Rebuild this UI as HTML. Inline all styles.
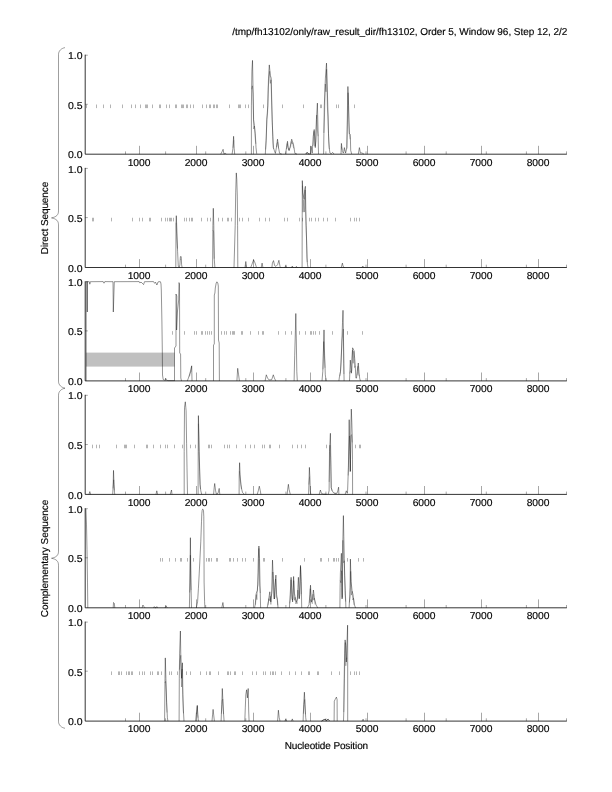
<!DOCTYPE html>
<html><head><meta charset="utf-8"><title>plot</title>
<style>html,body{margin:0;padding:0;background:#fff}svg{display:block}text{font-family:"Liberation Sans",sans-serif;font-size:10px;fill:#000;text-rendering:geometricPrecision;stroke:#000;stroke-width:0.15px}</style></head>
<body>
<svg width="612" height="792" viewBox="0 0 612 792">
<rect width="612" height="792" fill="#fff"/>
<text transform="translate(567.30 35.20) scale(1.0 1.0)" text-anchor="end" textLength="335.00" lengthAdjust="spacing">/tmp/fh13102/only/raw_result_dir/fh13102, Order 5, Window 96, Step 12, 2/2</text>
<path d="M65.0 47.6 C61.5 48.300000000000004 58.5 50.6 58.5 54.6 L58.5 210.9 C58.5 214.9 56.5 216.9 51.5 217.9 C56.5 218.9 58.5 220.9 58.5 224.9 L58.5 381.2 C58.5 385.2 61.5 387.5 65.0 388.2" fill="none" stroke="#000" stroke-width="0.38"/>
<path d="M65.0 388.2 C61.5 388.9 58.5 391.2 58.5 395.2 L58.5 551.25 C58.5 555.25 56.5 557.25 51.5 558.25 C56.5 559.25 58.5 561.25 58.5 565.25 L58.5 721.3 C58.5 725.3 61.5 727.5999999999999 65.0 728.3" fill="none" stroke="#000" stroke-width="0.38"/>
<text transform="translate(48.30 218.00) rotate(-90) scale(1.0 1.0)" text-anchor="middle" textLength="72.50" lengthAdjust="spacing">Direct Sequence</text>
<text transform="translate(48.30 558.50) rotate(-90) scale(1.0 1.0)" text-anchor="middle" textLength="117.50" lengthAdjust="spacing">Complementary Sequence</text>
<text transform="translate(326.40 748.80) scale(1.0 1.0)" text-anchor="middle" textLength="83.50" lengthAdjust="spacing">Nucleotide Position</text>
<g>
<path d="M86.5 104.52v3.6M96.5 104.52v3.6M103.5 104.52v3.6M110.5 104.52v3.6M122.5 104.52v3.6M131.5 104.52v3.6M135.5 104.52v3.6M140.5 104.52v3.6M145.5 104.52v3.6M146.5 104.52v3.6M147.5 104.52v3.6M152.5 104.52v3.6M159.5 104.52v3.6M160.5 104.52v3.6M166.5 104.52v3.6M169.5 104.52v3.6M175.5 104.52v3.6M176.5 104.52v3.6M181.5 104.52v3.6M182.5 104.52v3.6M183.5 104.52v3.6M186.5 104.52v3.6M187.5 104.52v3.6M190.5 104.52v3.6M193.5 104.52v3.6M202.5 104.52v3.6M206.5 104.52v3.6M209.5 104.52v3.6M210.5 104.52v3.6M213.5 104.52v3.6M214.5 104.52v3.6M216.5 104.52v3.6M217.5 104.52v3.6M229.5 104.52v3.6M238.5 104.52v3.6M239.5 104.52v3.6M240.5 104.52v3.6M245.5 104.52v3.6M248.5 104.52v3.6M263.5 104.52v3.6M282.5 104.52v3.6M303.5 104.52v3.6M320.5 104.52v3.6M321.5 104.52v3.6M336.5 104.52v3.6M338.5 104.52v3.6M354.5 104.52v3.6" stroke="#000" stroke-width="0.3" fill="none"/>
<path d="M85.2 55.2V154.2H566.3" stroke="#000" stroke-width="0.8" fill="none" stroke-linecap="square"/>
<path d="M85.2 55.2h2.6M85.2 104.3h2.6" stroke="#000" stroke-width="0.35" fill="none"/>
<path d="M139.5 154.2v-8.4M196.5 154.2v-8.4M253.5 154.2v-8.4M310.5 154.2v-8.4M367.5 154.2v-8.4M424.5 154.2v-8.4M481.5 154.2v-8.4M538.5 154.2v-8.4M125.5 154.2v-2.8M165.6 154.2v-2.8M205.7 154.2v-2.8M245.8 154.2v-2.8M285.9 154.2v-2.8M325.9 154.2v-2.8M366.0 154.2v-2.8M406.1 154.2v-2.8M446.2 154.2v-2.8M486.3 154.2v-2.8M526.4 154.2v-2.8M566.5 154.2v-2.8" stroke="#000" stroke-width="0.35" fill="none"/>
<text transform="translate(82.50 58.95) scale(1.05 1.0)" text-anchor="end">1.0</text>
<text transform="translate(82.50 108.95) scale(1.05 1.0)" text-anchor="end">0.5</text>
<text transform="translate(82.50 157.95) scale(1.05 1.0)" text-anchor="end">0.0</text>
<text transform="translate(139.10 165.95) scale(1.03 1.0)" text-anchor="middle">1000</text>
<text transform="translate(196.10 165.95) scale(1.03 1.0)" text-anchor="middle">2000</text>
<text transform="translate(253.10 165.95) scale(1.03 1.0)" text-anchor="middle">3000</text>
<text transform="translate(310.10 165.95) scale(1.03 1.0)" text-anchor="middle">4000</text>
<text transform="translate(367.10 165.95) scale(1.03 1.0)" text-anchor="middle">5000</text>
<text transform="translate(424.10 165.95) scale(1.03 1.0)" text-anchor="middle">6000</text>
<text transform="translate(481.10 165.95) scale(1.03 1.0)" text-anchor="middle">7000</text>
<text transform="translate(538.10 165.95) scale(1.03 1.0)" text-anchor="middle">8000</text>
<path d="M220.7 154.2L222.0 151.8L223.1 149.3L223.9 153.8L225.6 153.4L226.4 154.2M232.1 154.2L232.9 148.5L233.6 136.3L234.2 148.5L234.7 154.2M251.4 154.2L251.4 105.9L251.9 71.2L252.5 60.4L253.1 92.0L253.6 119.8L254.4 125.4L255.3 133.7L256.0 147.6L256.7 153.8M265.3 154.2L266.1 140.6L266.8 119.8L267.8 105.9L268.5 78.1L269.3 64.9L270.3 75.4L271.2 78.1L271.7 99.0L272.2 119.8L272.8 136.5L273.3 147.6L274.3 150.4L275.4 153.4L276.4 147.6L277.5 139.2L278.5 147.6L279.6 153.4L281.7 154.0M285.6 154.0L286.5 147.6L287.5 141.3L288.2 147.6L288.9 150.4L290.0 147.6L291.7 139.2L293.5 144.8L294.9 153.4L296.9 154.0M306.0 154.0L307.4 152.4L308.8 153.8M305.6 154.0L306.9 152.4L308.3 154.0L310.4 153.8L311.1 146.2L312.2 153.1L313.2 136.5L314.2 129.5L315.3 147.6L316.4 119.8L317.4 103.1L318.1 133.7L318.5 154.0M323.6 154.0L323.9 133.7L324.3 105.9L325.4 78.1L326.5 63.1L327.4 92.0L328.5 133.7L329.2 147.6L329.9 152.9L331.2 153.8L332.6 152.4L334.0 154.0M341.0 154.0L341.4 143.4L342.4 151.8L343.5 153.1L344.4 147.6L345.6 153.1L346.9 147.6L347.5 105.9L347.9 86.5L348.6 105.9L349.3 133.7L350.3 134.4L350.7 150.4L351.7 154.0M358.3 154.0L359.4 147.6L360.4 153.1L361.8 152.9L363.9 154.0" stroke="#000" stroke-width="0.42" fill="none" stroke-linejoin="round"/>
<path d="M233.1 147.7L233.8 140.3M251.7 89.2L252.4 85.8L253.0 93.5L253.7 129.0L254.4 126.0L255.1 137.4L255.8 143.8M265.6 149.5L266.3 138.0L266.9 119.0L267.6 112.8L268.3 87.2L269.0 78.5L269.7 71.3L270.3 83.4L271.0 79.8L271.7 105.6L272.4 125.4L273.1 143.3L273.7 148.9M276.5 147.3L277.1 143.2L277.8 142.3L278.5 148.4M286.5 149.2L287.2 143.5L287.9 147.2L288.6 149.3L289.3 150.6L289.9 147.9L290.6 146.9L291.3 141.5L292.0 143.7L292.7 142.7L293.3 146.9L294.0 148.4M312.7 146.0L313.3 144.9L314.0 131.3L314.7 146.2L315.4 145.4L316.1 141.2L316.7 115.1L317.4 129.9L318.1 136.2M323.9 132.9L324.6 112.6L325.3 84.0L326.0 91.8L326.6 69.3L327.3 106.3L328.0 116.8L328.7 141.8L329.4 149.1M341.3 146.6L342.0 149.7M344.0 150.3L344.7 150.1M346.7 148.7L347.4 124.1L348.1 92.7L348.8 122.2L349.4 134.4L350.1 139.3" stroke="#000" stroke-width="0.25" fill="none" stroke-linejoin="round"/>
</g>
<g>
<path d="M92.5 217.78v3.6M93.5 217.78v3.6M111.5 217.78v3.6M132.5 217.78v3.6M139.5 217.78v3.6M142.5 217.78v3.6M149.5 217.78v3.6M150.5 217.78v3.6M161.5 217.78v3.6M165.5 217.78v3.6M167.5 217.78v3.6M169.5 217.78v3.6M170.5 217.78v3.6M171.5 217.78v3.6M173.5 217.78v3.6M184.5 217.78v3.6M186.5 217.78v3.6M189.5 217.78v3.6M191.5 217.78v3.6M192.5 217.78v3.6M201.5 217.78v3.6M207.5 217.78v3.6M210.5 217.78v3.6M218.5 217.78v3.6M222.5 217.78v3.6M227.5 217.78v3.6M228.5 217.78v3.6M231.5 217.78v3.6M239.5 217.78v3.6M242.5 217.78v3.6M248.5 217.78v3.6M259.5 217.78v3.6M265.5 217.78v3.6M269.5 217.78v3.6M284.5 217.78v3.6M287.5 217.78v3.6M299.5 217.78v3.6M302.5 217.78v3.6M309.5 217.78v3.6M311.5 217.78v3.6M315.5 217.78v3.6M318.5 217.78v3.6M323.5 217.78v3.6M327.5 217.78v3.6M335.5 217.78v3.6M350.5 217.78v3.6M354.5 217.78v3.6M356.5 217.78v3.6M359.5 217.78v3.6" stroke="#000" stroke-width="0.3" fill="none"/>
<path d="M85.2 168.4V267.5H566.3" stroke="#000" stroke-width="0.8" fill="none" stroke-linecap="square"/>
<path d="M85.2 168.4h2.6M85.2 217.6h2.6" stroke="#000" stroke-width="0.35" fill="none"/>
<path d="M139.5 267.5v-8.4M196.5 267.5v-8.4M253.5 267.5v-8.4M310.5 267.5v-8.4M367.5 267.5v-8.4M424.5 267.5v-8.4M481.5 267.5v-8.4M538.5 267.5v-8.4M125.5 267.5v-2.8M165.6 267.5v-2.8M205.7 267.5v-2.8M245.8 267.5v-2.8M285.9 267.5v-2.8M325.9 267.5v-2.8M366.0 267.5v-2.8M406.1 267.5v-2.8M446.2 267.5v-2.8M486.3 267.5v-2.8M526.4 267.5v-2.8M566.5 267.5v-2.8" stroke="#000" stroke-width="0.35" fill="none"/>
<text transform="translate(82.50 172.95) scale(1.05 1.0)" text-anchor="end">1.0</text>
<text transform="translate(82.50 221.95) scale(1.05 1.0)" text-anchor="end">0.5</text>
<text transform="translate(82.50 271.95) scale(1.05 1.0)" text-anchor="end">0.0</text>
<text transform="translate(139.10 278.95) scale(1.03 1.0)" text-anchor="middle">1000</text>
<text transform="translate(196.10 278.95) scale(1.03 1.0)" text-anchor="middle">2000</text>
<text transform="translate(253.10 278.95) scale(1.03 1.0)" text-anchor="middle">3000</text>
<text transform="translate(310.10 278.95) scale(1.03 1.0)" text-anchor="middle">4000</text>
<text transform="translate(367.10 278.95) scale(1.03 1.0)" text-anchor="middle">5000</text>
<text transform="translate(424.10 278.95) scale(1.03 1.0)" text-anchor="middle">6000</text>
<text transform="translate(481.10 278.95) scale(1.03 1.0)" text-anchor="middle">7000</text>
<text transform="translate(538.10 278.95) scale(1.03 1.0)" text-anchor="middle">8000</text>
<path d="M175.8 267.5L176.0 225.5L176.3 215.7L177.0 233.7L177.6 251.7L178.3 266.4L179.3 267.2L179.9 264.7L180.4 256.6L181.2 256.6L181.6 264.7L182.1 267.5M212.6 267.5L212.9 225.5L213.3 208.3L213.8 225.5L214.2 258.2L214.9 267.5M234.0 267.5L234.5 250.0L235.2 225.5L235.7 192.8L236.3 172.9L236.8 179.8L237.3 196.1L237.6 225.5L237.8 267.5M245.0 267.5L245.8 261.5L246.6 267.5M250.7 267.5L251.8 264.7L253.6 259.8L255.1 263.1L256.4 267.2M261.2 267.5L262.1 263.1L262.9 267.5M271.9 267.5L272.4 263.1L273.5 260.6L274.6 265.5L275.9 266.4L277.6 264.7L278.9 260.3L280.0 266.4L280.8 267.5M284.9 267.5L285.8 265.5L286.6 267.5M291.5 267.5L292.3 266.0L293.1 267.5M295.6 267.5L296.4 266.4L297.2 267.5M302.1 267.5L302.3 180.6L302.9 192.8L304.1 199.4L304.7 189.6L305.4 186.3L305.8 209.2L306.2 225.5L306.7 245.1L307.0 258.2L307.5 264.7L308.0 267.5M341.2 267.5L342.4 263.1L343.2 266.7L344.5 267.5M361.7 267.5L362.8 266.0L363.8 267.5" stroke="#000" stroke-width="0.42" fill="none" stroke-linejoin="round"/>
<path d="M176.1 222.8L176.8 238.8L177.5 248.5M180.2 260.0L180.9 259.3M212.9 230.1L213.6 231.7L214.3 258.8M302.4 185.7L303.1 212.2L303.8 199.7L304.4 212.1L305.1 189.9L305.8 221.7L306.5 238.2L307.2 262.1" stroke="#000" stroke-width="0.25" fill="none" stroke-linejoin="round"/>
</g>
<g>
<rect x="86" y="352.6" width="88.6" height="14.0" fill="#c0c0c0"/>
<path d="M172.5 331.13v3.6M184.5 331.13v3.6M194.5 331.13v3.6M196.5 331.13v3.6M201.5 331.13v3.6M202.5 331.13v3.6M205.5 331.13v3.6M207.5 331.13v3.6M209.5 331.13v3.6M211.5 331.13v3.6M221.5 331.13v3.6M224.5 331.13v3.6M226.5 331.13v3.6M230.5 331.13v3.6M232.5 331.13v3.6M233.5 331.13v3.6M234.5 331.13v3.6M241.5 331.13v3.6M242.5 331.13v3.6M250.5 331.13v3.6M258.5 331.13v3.6M262.5 331.13v3.6M263.5 331.13v3.6M278.5 331.13v3.6M285.5 331.13v3.6M291.5 331.13v3.6M299.5 331.13v3.6M305.5 331.13v3.6M310.5 331.13v3.6M311.5 331.13v3.6M313.5 331.13v3.6M315.5 331.13v3.6M319.5 331.13v3.6M332.5 331.13v3.6M347.5 331.13v3.6M362.5 331.13v3.6" stroke="#000" stroke-width="0.3" fill="none"/>
<path d="M85.2 281.8V380.9H566.3" stroke="#000" stroke-width="0.8" fill="none" stroke-linecap="square"/>
<path d="M85.2 281.8h2.6M85.2 330.9h2.6" stroke="#000" stroke-width="0.35" fill="none"/>
<path d="M139.5 380.9v-8.4M196.5 380.9v-8.4M253.5 380.9v-8.4M310.5 380.9v-8.4M367.5 380.9v-8.4M424.5 380.9v-8.4M481.5 380.9v-8.4M538.5 380.9v-8.4M125.5 380.9v-2.8M165.6 380.9v-2.8M205.7 380.9v-2.8M245.8 380.9v-2.8M285.9 380.9v-2.8M325.9 380.9v-2.8M366.0 380.9v-2.8M406.1 380.9v-2.8M446.2 380.9v-2.8M486.3 380.9v-2.8M526.4 380.9v-2.8M566.5 380.9v-2.8" stroke="#000" stroke-width="0.35" fill="none"/>
<text transform="translate(82.50 285.95) scale(1.05 1.0)" text-anchor="end">1.0</text>
<text transform="translate(82.50 334.95) scale(1.05 1.0)" text-anchor="end">0.5</text>
<text transform="translate(82.50 384.95) scale(1.05 1.0)" text-anchor="end">0.0</text>
<text transform="translate(139.10 391.95) scale(1.03 1.0)" text-anchor="middle">1000</text>
<text transform="translate(196.10 391.95) scale(1.03 1.0)" text-anchor="middle">2000</text>
<text transform="translate(253.10 391.95) scale(1.03 1.0)" text-anchor="middle">3000</text>
<text transform="translate(310.10 391.95) scale(1.03 1.0)" text-anchor="middle">4000</text>
<text transform="translate(367.10 391.95) scale(1.03 1.0)" text-anchor="middle">5000</text>
<text transform="translate(424.10 391.95) scale(1.03 1.0)" text-anchor="middle">6000</text>
<text transform="translate(481.10 391.95) scale(1.03 1.0)" text-anchor="middle">7000</text>
<text transform="translate(538.10 391.95) scale(1.03 1.0)" text-anchor="middle">8000</text>
<path d="M86.2 380.9L86.2 281.6L87.3 281.6L87.3 312.0L87.3 281.6L89.3 281.7L89.8 284.2L90.4 281.7L103.2 281.6L104.0 283.2L104.8 281.6L113.0 281.7L113.3 312.0L114.3 281.7L139.2 281.6L139.9 283.0L141.0 282.0L143.6 284.6L144.5 281.7L153.5 281.6L154.6 283.3L155.5 282.2L156.9 285.0L158.0 282.0L159.0 281.6L160.5 281.8L161.0 284.0L161.3 290.0L161.9 321.0L162.3 350.0L162.5 375.0L163.2 379.5L164.5 380.2L165.3 379.5L165.7 378.5L166.2 380.0L168.0 380.6L174.5 380.6M174.5 380.9L174.5 348.0L176.0 346.0L176.0 294.0L176.8 296.0L176.6 330.0L177.4 312.0L178.7 300.0L179.0 282.6L179.5 284.0L179.7 353.0L180.6 354.0L180.8 378.0L181.5 380.9M187.3 380.9L188.4 378.1L190.0 373.2L191.7 365.8L192.0 380.9M213.5 380.9L213.5 345.0L214.3 344.0L214.3 295.0L214.9 293.0L215.3 288.0L216.2 283.0L216.9 281.8L217.8 283.0L218.3 286.0L218.5 340.0L219.2 343.0L219.4 380.9M236.9 380.9L237.7 368.3L238.6 374.8L239.4 380.9M265.1 380.9L266.3 374.8L267.6 378.1L269.2 380.0L271.7 379.7L273.3 374.8L274.4 378.1L275.8 380.9M294.1 380.9L294.7 355.2L295.4 330.7L295.8 313.5L296.3 338.9L296.8 371.5L297.3 380.9M322.0 380.9L322.8 371.5L323.5 347.0L324.0 329.9L324.6 355.2L325.3 374.8L326.1 380.9M338.9 380.9L339.5 376.4L340.5 371.5L341.7 347.0L342.5 322.5L343.0 310.3L343.5 338.9L343.8 363.4L344.1 380.9M349.5 380.9L350.3 360.1L351.0 369.9L351.5 373.2L352.0 358.5L352.6 347.8L353.9 350.3L354.7 358.5L355.2 365.0L355.9 378.1L356.5 378.1L357.2 371.5L358.3 363.0L359.2 374.8L359.8 378.9L360.5 380.9" stroke="#000" stroke-width="0.42" fill="none" stroke-linejoin="round"/>
<path d="M188.9 376.7L189.6 376.1L190.3 372.3L191.0 372.0L191.6 366.4M323.0 369.3L323.7 341.6L324.3 353.6L325.0 367.8M339.9 376.3L340.5 371.3L341.2 362.5L341.9 341.0L342.6 335.1L343.3 329.1L343.9 374.1M349.8 373.5L350.5 370.8L351.2 371.5L351.8 370.4L352.5 350.2L353.2 363.3L353.9 351.2L354.6 367.6L355.2 365.9M357.3 375.3L358.0 366.2L358.6 373.6L359.3 376.1" stroke="#000" stroke-width="0.25" fill="none" stroke-linejoin="round"/>
</g>
<g>
<path d="M92.5 444.68v3.6M96.5 444.68v3.6M99.5 444.68v3.6M116.5 444.68v3.6M124.5 444.68v3.6M125.5 444.68v3.6M126.5 444.68v3.6M134.5 444.68v3.6M146.5 444.68v3.6M147.5 444.68v3.6M153.5 444.68v3.6M160.5 444.68v3.6M165.5 444.68v3.6M167.5 444.68v3.6M174.5 444.68v3.6M182.5 444.68v3.6M190.5 444.68v3.6M195.5 444.68v3.6M208.5 444.68v3.6M209.5 444.68v3.6M211.5 444.68v3.6M224.5 444.68v3.6M227.5 444.68v3.6M229.5 444.68v3.6M236.5 444.68v3.6M245.5 444.68v3.6M250.5 444.68v3.6M254.5 444.68v3.6M262.5 444.68v3.6M264.5 444.68v3.6M269.5 444.68v3.6M270.5 444.68v3.6M279.5 444.68v3.6M292.5 444.68v3.6M297.5 444.68v3.6M301.5 444.68v3.6M305.5 444.68v3.6M326.5 444.68v3.6M355.5 444.68v3.6M359.5 444.68v3.6M360.5 444.68v3.6" stroke="#000" stroke-width="0.3" fill="none"/>
<path d="M85.2 395.3V494.4H566.3" stroke="#000" stroke-width="0.8" fill="none" stroke-linecap="square"/>
<path d="M85.2 395.3h2.6M85.2 444.5h2.6" stroke="#000" stroke-width="0.35" fill="none"/>
<path d="M139.5 494.4v-8.4M196.5 494.4v-8.4M253.5 494.4v-8.4M310.5 494.4v-8.4M367.5 494.4v-8.4M424.5 494.4v-8.4M481.5 494.4v-8.4M538.5 494.4v-8.4M125.5 494.4v-2.8M165.6 494.4v-2.8M205.7 494.4v-2.8M245.8 494.4v-2.8M285.9 494.4v-2.8M325.9 494.4v-2.8M366.0 494.4v-2.8M406.1 494.4v-2.8M446.2 494.4v-2.8M486.3 494.4v-2.8M526.4 494.4v-2.8M566.5 494.4v-2.8" stroke="#000" stroke-width="0.35" fill="none"/>
<text transform="translate(82.50 398.95) scale(1.05 1.0)" text-anchor="end">1.0</text>
<text transform="translate(82.50 448.95) scale(1.05 1.0)" text-anchor="end">0.5</text>
<text transform="translate(82.50 498.95) scale(1.05 1.0)" text-anchor="end">0.0</text>
<text transform="translate(139.10 505.95) scale(1.03 1.0)" text-anchor="middle">1000</text>
<text transform="translate(196.10 505.95) scale(1.03 1.0)" text-anchor="middle">2000</text>
<text transform="translate(253.10 505.95) scale(1.03 1.0)" text-anchor="middle">3000</text>
<text transform="translate(310.10 505.95) scale(1.03 1.0)" text-anchor="middle">4000</text>
<text transform="translate(367.10 505.95) scale(1.03 1.0)" text-anchor="middle">5000</text>
<text transform="translate(424.10 505.95) scale(1.03 1.0)" text-anchor="middle">6000</text>
<text transform="translate(481.10 505.95) scale(1.03 1.0)" text-anchor="middle">7000</text>
<text transform="translate(538.10 505.95) scale(1.03 1.0)" text-anchor="middle">8000</text>
<path d="M89.0 494.4L89.8 491.6L90.6 494.4M112.7 494.4L113.2 484.3L113.5 470.4L114.0 484.3L114.5 492.4L114.8 494.4M156.0 494.4L156.8 490.8L157.6 494.4M170.2 494.4L171.5 490.0L172.0 494.4M184.2 494.4L184.2 451.6L184.5 407.5L185.3 401.8L186.1 410.7L186.6 443.4L187.0 467.9L187.5 494.4M198.1 494.4L198.2 451.6L198.4 415.6L198.9 435.2L199.2 451.6L199.7 471.2L200.0 484.3L200.8 490.8L201.7 494.4M213.6 494.4L214.2 487.5L214.7 483.5L215.6 490.8L216.4 494.1L218.0 493.3L219.2 488.4L219.8 494.4M239.1 494.4L239.2 476.1L239.6 462.7L240.1 474.5L240.9 484.3L241.7 489.2L242.5 492.4L244.2 494.4M257.2 494.4L258.3 490.8L259.3 486.2L260.3 490.8L260.9 494.4M287.1 494.4L287.7 489.2L288.4 484.3L289.0 489.2L290.3 494.4M308.6 494.4L309.1 477.7L309.4 467.4L309.9 477.7L310.3 490.8L310.8 494.4M319.2 494.4L320.4 490.0L321.4 493.3L323.3 494.1L326.6 494.1M328.2 494.4L329.1 490.8L329.5 451.6L330.4 433.3L330.8 459.8L331.2 487.5L332.3 490.8L333.1 492.4L335.6 493.7M334.5 493.3L337.0 493.3L337.8 490.8L338.6 487.2L338.9 494.4M345.1 494.4L346.3 490.8L347.3 493.3L347.6 490.8L348.4 467.9L348.9 435.2L349.2 419.7L349.9 451.6L350.4 471.2L350.8 435.2L351.3 409.1L351.8 422.2L352.2 435.2L352.5 459.8L352.6 494.4" stroke="#000" stroke-width="0.42" fill="none" stroke-linejoin="round"/>
<path d="M113.0 488.4L113.7 479.8L114.3 490.3M198.4 423.7L199.1 456.2L199.7 472.9L200.4 489.1M239.4 471.2L240.1 479.4L240.7 483.0L241.4 489.2M308.9 484.5L309.6 476.7M329.2 481.9L329.9 445.2L330.6 457.3L331.3 488.0L331.9 490.9M348.2 475.5L348.8 452.9L349.5 435.9L350.2 471.9L350.9 435.9L351.6 434.6L352.2 442.4" stroke="#000" stroke-width="0.25" fill="none" stroke-linejoin="round"/>
</g>
<g>
<path d="M160.5 558.02v3.6M162.5 558.02v3.6M169.5 558.02v3.6M175.5 558.02v3.6M180.5 558.02v3.6M181.5 558.02v3.6M187.5 558.02v3.6M193.5 558.02v3.6M206.5 558.02v3.6M208.5 558.02v3.6M209.5 558.02v3.6M211.5 558.02v3.6M216.5 558.02v3.6M217.5 558.02v3.6M229.5 558.02v3.6M230.5 558.02v3.6M233.5 558.02v3.6M237.5 558.02v3.6M242.5 558.02v3.6M245.5 558.02v3.6M253.5 558.02v3.6M263.5 558.02v3.6M264.5 558.02v3.6M282.5 558.02v3.6M304.5 558.02v3.6M320.5 558.02v3.6M321.5 558.02v3.6M328.5 558.02v3.6M333.5 558.02v3.6M334.5 558.02v3.6M336.5 558.02v3.6M338.5 558.02v3.6M347.5 558.02v3.6M358.5 558.02v3.6M363.5 558.02v3.6" stroke="#000" stroke-width="0.3" fill="none"/>
<path d="M85.2 508.7V607.8H566.3" stroke="#000" stroke-width="0.8" fill="none" stroke-linecap="square"/>
<path d="M85.2 508.7h2.6M85.2 557.8h2.6" stroke="#000" stroke-width="0.35" fill="none"/>
<path d="M139.5 607.8v-8.4M196.5 607.8v-8.4M253.5 607.8v-8.4M310.5 607.8v-8.4M367.5 607.8v-8.4M424.5 607.8v-8.4M481.5 607.8v-8.4M538.5 607.8v-8.4M125.5 607.8v-2.8M165.6 607.8v-2.8M205.7 607.8v-2.8M245.8 607.8v-2.8M285.9 607.8v-2.8M325.9 607.8v-2.8M366.0 607.8v-2.8M406.1 607.8v-2.8M446.2 607.8v-2.8M486.3 607.8v-2.8M526.4 607.8v-2.8M566.5 607.8v-2.8" stroke="#000" stroke-width="0.35" fill="none"/>
<text transform="translate(82.50 512.95) scale(1.05 1.0)" text-anchor="end">1.0</text>
<text transform="translate(82.50 561.95) scale(1.05 1.0)" text-anchor="end">0.5</text>
<text transform="translate(82.50 611.95) scale(1.05 1.0)" text-anchor="end">0.0</text>
<text transform="translate(139.10 618.95) scale(1.03 1.0)" text-anchor="middle">1000</text>
<text transform="translate(196.10 618.95) scale(1.03 1.0)" text-anchor="middle">2000</text>
<text transform="translate(253.10 618.95) scale(1.03 1.0)" text-anchor="middle">3000</text>
<text transform="translate(310.10 618.95) scale(1.03 1.0)" text-anchor="middle">4000</text>
<text transform="translate(367.10 618.95) scale(1.03 1.0)" text-anchor="middle">5000</text>
<text transform="translate(424.10 618.95) scale(1.03 1.0)" text-anchor="middle">6000</text>
<text transform="translate(481.10 618.95) scale(1.03 1.0)" text-anchor="middle">7000</text>
<text transform="translate(538.10 618.95) scale(1.03 1.0)" text-anchor="middle">8000</text>
<path d="M85.9 508.9L86.5 524.9L87.0 549.4L87.5 582.1L87.8 607.8M113.2 607.8L113.5 602.5L114.3 603.3L114.8 607.8M142.1 607.8L142.9 605.0L144.1 606.9L145.0 607.8M153.5 607.8L154.3 606.6L155.2 607.8L156.0 607.8L156.8 606.6L157.6 607.8M165.0 607.8L166.1 605.8L167.1 607.8M189.4 607.8L189.9 582.1L190.4 537.7L190.9 582.1L191.5 607.8M196.3 607.8L197.6 601.7L198.4 588.6L199.2 573.9L200.0 557.6L200.8 541.2L201.5 521.6L201.8 513.5L202.2 510.2L202.6 509.2L203.1 509.4L203.5 510.5L203.8 516.7L204.0 549.4L204.1 582.1L204.6 601.7L204.9 607.8M221.8 607.8L222.9 602.5L223.7 607.8M254.5 607.8L255.2 604.8L256.3 593.2L257.4 590.3L258.0 572.9L258.3 558.4L258.9 546.0L259.5 558.4L260.0 583.1L260.6 607.8M267.2 607.8L268.3 601.9L269.8 591.8L270.8 601.9L271.7 593.2L272.1 575.8L272.5 560.1L273.0 572.9L273.4 578.7L274.3 599.0L274.8 587.4L275.9 575.1L276.6 594.7L277.5 600.5L278.0 607.8M289.4 607.8L290.2 594.7L291.1 577.3L292.0 594.7L292.6 601.9L293.1 587.4L293.6 576.5L294.4 593.2L295.5 599.0L296.3 601.9L297.4 599.0L297.9 587.4L298.4 577.3L299.2 599.0L300.0 580.2L300.5 565.4L301.3 581.6L301.7 607.8M307.3 607.8L309.0 604.8L309.9 594.7L310.5 585.2L311.0 594.7L311.6 601.9L312.5 599.0L313.4 590.0L314.5 599.0L316.0 604.8L317.7 607.8M339.9 607.8L340.1 587.4L340.4 572.9L341.4 553.3L341.8 587.4L342.1 599.0L342.5 572.9L342.8 543.9L343.4 515.6L343.8 536.6L344.3 558.4L344.7 575.8L345.3 590.3L345.9 607.8M349.1 607.8L349.8 594.7L350.1 587.4L350.4 559.1L350.8 572.9L351.1 581.6L352.0 590.3L353.0 594.7L354.4 604.8L355.5 607.8" stroke="#000" stroke-width="0.42" fill="none" stroke-linejoin="round"/>
<path d="M189.7 592.5L190.4 555.2L191.1 590.1M255.5 604.8L256.2 594.6L256.9 599.7L257.5 587.5L258.2 584.9L258.9 548.4L259.6 585.7L260.3 593.0M268.1 605.3L268.8 598.7L269.5 600.7L270.2 596.2L270.9 604.5L271.5 594.8L272.2 589.6L272.9 572.0L273.6 595.3L274.3 599.0L274.9 597.1L275.6 579.0L276.3 597.2L277.0 597.5L277.7 605.3M289.7 603.4L290.3 600.1L291.0 579.8L291.7 598.5L292.4 600.0L293.1 598.5L293.7 580.6L294.4 600.3L295.1 597.3L295.8 603.9L296.5 601.8L297.1 603.7L297.8 590.1L298.5 594.2L299.2 598.0L299.9 595.2L300.5 566.6L301.2 594.2M309.6 602.8L310.3 588.7L311.0 600.6L311.6 602.0L312.3 603.7L313.0 594.2L313.7 600.1L314.4 598.1L315.0 604.4M340.2 580.5L340.9 582.8L341.6 570.7L342.3 597.6L342.9 540.3L343.6 562.8L344.3 560.8L345.0 593.9L345.7 601.6M349.4 602.5L350.1 597.1L350.7 571.4L351.4 595.1L352.1 591.3L352.8 600.0L353.5 598.2L354.1 605.0" stroke="#000" stroke-width="0.25" fill="none" stroke-linejoin="round"/>
</g>
<g>
<path d="M111.5 671.42v3.6M118.5 671.42v3.6M119.5 671.42v3.6M121.5 671.42v3.6M126.5 671.42v3.6M128.5 671.42v3.6M129.5 671.42v3.6M131.5 671.42v3.6M132.5 671.42v3.6M139.5 671.42v3.6M142.5 671.42v3.6M144.5 671.42v3.6M150.5 671.42v3.6M152.5 671.42v3.6M157.5 671.42v3.6M158.5 671.42v3.6M161.5 671.42v3.6M169.5 671.42v3.6M171.5 671.42v3.6M177.5 671.42v3.6M186.5 671.42v3.6M190.5 671.42v3.6M200.5 671.42v3.6M206.5 671.42v3.6M209.5 671.42v3.6M210.5 671.42v3.6M218.5 671.42v3.6M227.5 671.42v3.6M228.5 671.42v3.6M230.5 671.42v3.6M234.5 671.42v3.6M235.5 671.42v3.6M242.5 671.42v3.6M252.5 671.42v3.6M256.5 671.42v3.6M263.5 671.42v3.6M265.5 671.42v3.6M270.5 671.42v3.6M272.5 671.42v3.6M273.5 671.42v3.6M275.5 671.42v3.6M281.5 671.42v3.6M289.5 671.42v3.6M295.5 671.42v3.6M301.5 671.42v3.6M308.5 671.42v3.6M309.5 671.42v3.6M317.5 671.42v3.6M318.5 671.42v3.6M331.5 671.42v3.6M339.5 671.42v3.6M350.5 671.42v3.6M354.5 671.42v3.6M356.5 671.42v3.6M359.5 671.42v3.6" stroke="#000" stroke-width="0.3" fill="none"/>
<path d="M85.2 622.1V721.1H566.3" stroke="#000" stroke-width="0.8" fill="none" stroke-linecap="square"/>
<path d="M85.2 622.1h2.6M85.2 671.2h2.6" stroke="#000" stroke-width="0.35" fill="none"/>
<path d="M139.5 721.1v-8.4M196.5 721.1v-8.4M253.5 721.1v-8.4M310.5 721.1v-8.4M367.5 721.1v-8.4M424.5 721.1v-8.4M481.5 721.1v-8.4M538.5 721.1v-8.4M125.5 721.1v-2.8M165.6 721.1v-2.8M205.7 721.1v-2.8M245.8 721.1v-2.8M285.9 721.1v-2.8M325.9 721.1v-2.8M366.0 721.1v-2.8M406.1 721.1v-2.8M446.2 721.1v-2.8M486.3 721.1v-2.8M526.4 721.1v-2.8M566.5 721.1v-2.8" stroke="#000" stroke-width="0.35" fill="none"/>
<text transform="translate(82.50 625.95) scale(1.05 1.0)" text-anchor="end">1.0</text>
<text transform="translate(82.50 675.95) scale(1.05 1.0)" text-anchor="end">0.5</text>
<text transform="translate(82.50 724.95) scale(1.05 1.0)" text-anchor="end">0.0</text>
<text transform="translate(139.10 731.95) scale(1.03 1.0)" text-anchor="middle">1000</text>
<text transform="translate(196.10 731.95) scale(1.03 1.0)" text-anchor="middle">2000</text>
<text transform="translate(253.10 731.95) scale(1.03 1.0)" text-anchor="middle">3000</text>
<text transform="translate(310.10 731.95) scale(1.03 1.0)" text-anchor="middle">4000</text>
<text transform="translate(367.10 731.95) scale(1.03 1.0)" text-anchor="middle">5000</text>
<text transform="translate(424.10 731.95) scale(1.03 1.0)" text-anchor="middle">6000</text>
<text transform="translate(481.10 731.95) scale(1.03 1.0)" text-anchor="middle">7000</text>
<text transform="translate(538.10 731.95) scale(1.03 1.0)" text-anchor="middle">8000</text>
<path d="M164.6 721.1L165.0 678.3L165.3 657.9L165.9 678.3L166.6 702.8L167.4 717.6L167.9 721.1M179.1 721.1L179.3 678.3L179.6 653.8L180.4 631.0L180.9 662.0L181.6 678.3L182.4 662.8L182.9 694.7L183.4 711.0L184.0 721.1M195.6 721.1L196.6 711.0L197.3 705.3L197.7 714.3L198.4 721.1M212.0 721.1L212.6 714.3L213.1 709.4L213.8 715.9L214.4 721.1M221.1 721.1L221.8 704.5L222.3 688.5L222.9 701.2L223.6 714.3L224.1 721.1M244.8 721.1L245.3 707.8L245.8 694.7L246.6 689.8L247.4 697.9L248.2 688.5L248.7 711.0L249.1 721.1M277.6 721.1L278.4 710.2L279.2 717.6L280.0 721.1M284.9 721.1L285.8 719.2L286.6 721.1M291.5 721.1L292.3 718.9L293.1 721.1M303.1 721.1L303.7 704.5L304.4 692.2L305.0 704.5L305.7 717.6L306.2 721.1M321.7 721.1L323.3 720.0L325.0 719.2L326.6 720.5L328.2 719.2L329.5 720.8M334.1 721.1L334.3 701.2L335.1 699.6L336.4 697.1L337.1 699.6L337.2 721.1M321.4 721.1L323.1 720.0L325.5 719.5L326.3 720.8L328.0 719.2L329.3 720.8M343.5 721.1L343.8 711.0L344.2 678.3L344.6 653.8L345.1 639.9L345.8 645.7L346.3 662.0L346.9 645.7L347.6 625.2L347.7 662.0L347.7 721.1M362.0 721.1L363.1 719.2L363.9 721.1" stroke="#000" stroke-width="0.42" fill="none" stroke-linejoin="round"/>
<path d="M164.9 683.0L165.6 681.4L166.3 692.5L167.0 712.5M179.4 669.7L180.1 660.4L180.8 655.3L181.5 687.0L182.1 669.1L182.8 698.5L183.5 713.3M196.6 713.6L197.3 706.2L198.0 717.7M221.4 713.7L222.1 700.7L222.8 699.2L223.5 714.3M303.4 713.7L304.1 704.1L304.7 699.5L305.4 714.3M343.8 712.1L344.5 676.8L345.2 642.6L345.8 665.8L346.5 657.9L347.2 658.2" stroke="#000" stroke-width="0.25" fill="none" stroke-linejoin="round"/>
</g>
</svg>
</body></html>
